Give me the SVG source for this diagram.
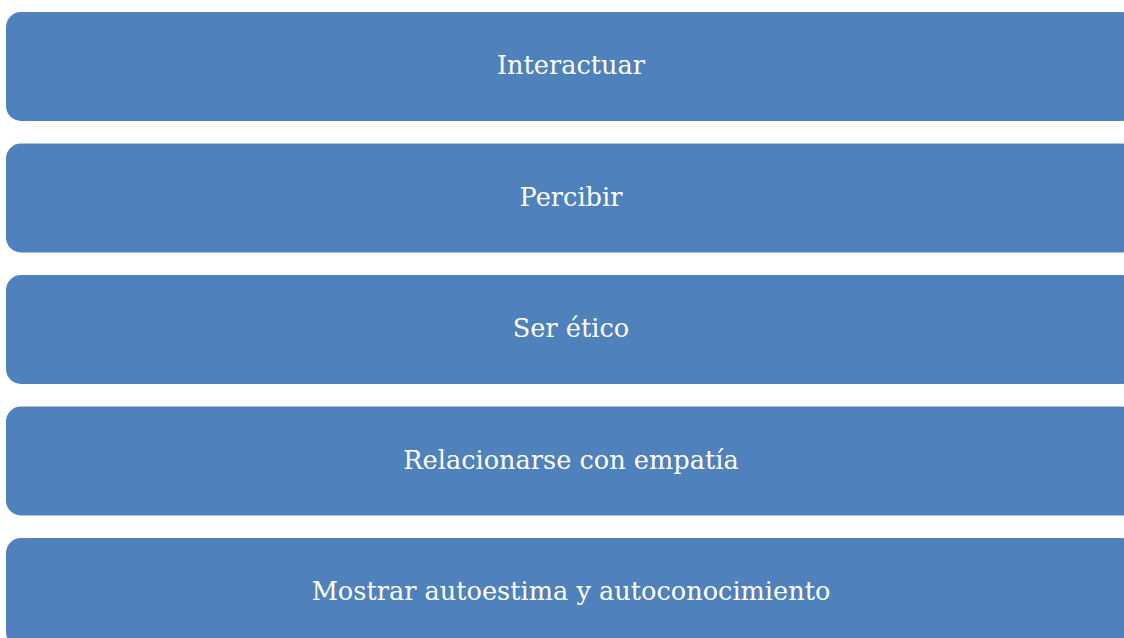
<svg xmlns="http://www.w3.org/2000/svg" width="1124" height="638" viewBox="0 0 1124 638">
<style>
.box{fill:#4F81BD;}
.lbl{font-family:"DejaVu Serif","Liberation Serif",serif;font-size:25.6px;fill:#FFFFFF;text-anchor:middle;}
</style>
<rect width="1124" height="638" fill="#FFFFFF"/>
<g id="n1"><rect class="box" x="6" y="12" width="1130" height="109" rx="15"/><text class="lbl" x="571" y="74">Interactuar</text></g>
<g id="n2"><rect class="box" x="6" y="143.5" width="1130" height="109" rx="15"/><text class="lbl" x="571" y="205.5">Percibir</text></g>
<g id="n3"><rect class="box" x="6" y="275" width="1130" height="109" rx="15"/><text class="lbl" x="571" y="337">Ser ético</text></g>
<g id="n4"><rect class="box" x="6" y="406.5" width="1130" height="109" rx="15"/><text class="lbl" x="571" y="468.5">Relacionarse con empatía</text></g>
<g id="n5"><rect class="box" x="6" y="538" width="1130" height="109" rx="15"/><text class="lbl" x="571" y="600">Mostrar autoestima y autoconocimiento</text></g>
<g id="connectors"></g>
</svg>
